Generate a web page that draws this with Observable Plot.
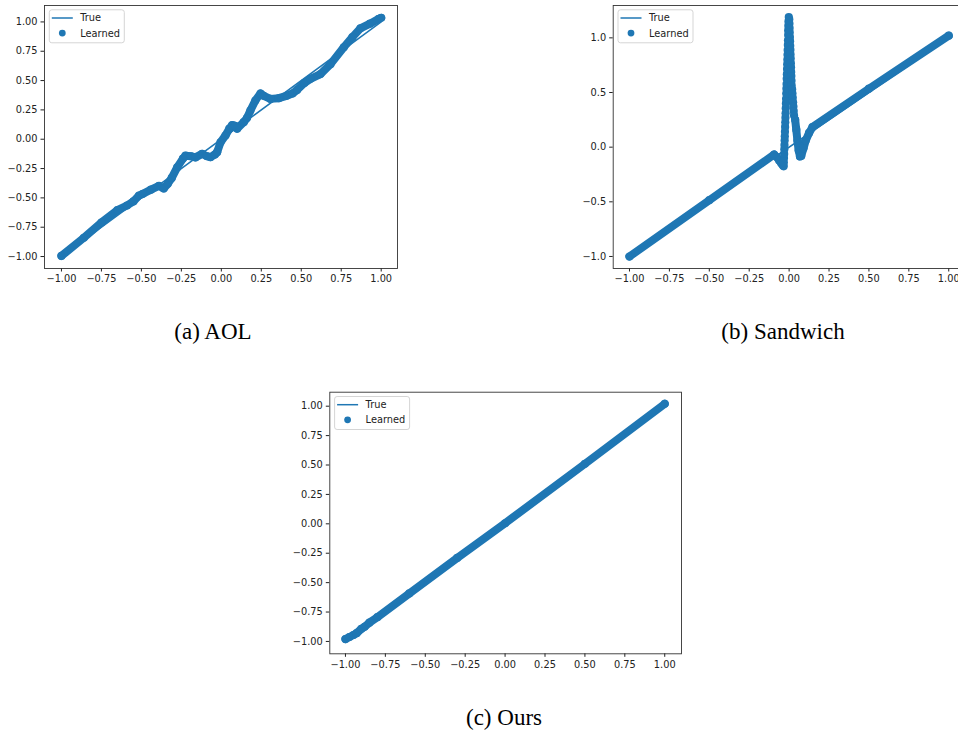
<!DOCTYPE html>
<html>
<head>
<meta charset="utf-8">
<script src="https://cdn.jsdelivr.net/npm/d3@7"></script>
<script src="https://cdn.jsdelivr.net/npm/@observablehq/plot@0.6"></script>
<style>
  html, body { margin: 0; padding: 0; background: #fff; }
  body { position: relative; width: 958px; height: 732px; overflow: hidden; }
  .panel { position: absolute; }
  .caption {
    position: absolute; width: 240px; text-align: center; white-space: nowrap;
    font-family: "Liberation Serif", "Times New Roman", serif;
    font-size: 23px; line-height: 23px; color: #000;
  }
</style>
</head>
<body>
<script>
// ---- shared axis ticks and labels ----
const xTicks = [-1, -0.75, -0.5, -0.25, 0, 0.25, 0.5, 0.75, 1];
const yTicksFine = [-1, -0.75, -0.5, -0.25, 0, 0.25, 0.5, 0.75, 1];
const yTicksCoarse = [-1, -0.5, 0, 0.5, 1];
const seriesNames = ["True", "Learned"];
const captions = ["(a) AOL", "(b) Sandwich", "(c) Ours"];

// ---- ground-truth function y = x ----
const trueX = [-1, 1];
const trueY = [-1, 1];

// ---- learned function, AOL ----
const aolX = [-1.0, -0.86, -0.75, -0.65, -0.59, -0.55, -0.515, -0.49, -0.44, -0.39, -0.36, -0.335, -0.31,
  -0.276, -0.24, -0.224, -0.19, -0.162, -0.12, -0.09, -0.068, -0.04, -0.026, -0.005, 0.026, 0.05, 0.068,
  0.085, 0.099, 0.14, 0.16, 0.182, 0.213, 0.245, 0.265, 0.307, 0.36, 0.412, 0.445, 0.474, 0.52, 0.558,
  0.62, 0.683, 0.766, 0.82, 0.87, 0.93, 0.985, 1.0];
const aolY = [-0.995, -0.84, -0.71, -0.605, -0.565, -0.53, -0.48, -0.465, -0.43, -0.398, -0.42, -0.38, -0.33,
  -0.24, -0.165, -0.14, -0.145, -0.155, -0.125, -0.145, -0.153, -0.13, -0.11, -0.026, 0.032, 0.09, 0.12,
  0.115, 0.09, 0.145, 0.18, 0.245, 0.33, 0.39, 0.37, 0.344, 0.35, 0.372, 0.39, 0.42, 0.48, 0.515,
  0.555, 0.64, 0.784, 0.87, 0.945, 0.985, 1.026, 1.035];

// ---- learned function, Sandwich (spike near zero) ----
const sandwichX = [-1.0, -0.5, -0.094, -0.078, -0.062, -0.048, -0.038,
  -0.034, -0.033, -0.032, -0.031, -0.030, -0.029, -0.028, -0.027, -0.026, -0.025, -0.024, -0.023, -0.022,
  -0.021, -0.020, -0.019, -0.018, -0.017, -0.016, -0.015, -0.014, -0.013, -0.012, -0.011, -0.010, -0.009,
  -0.008, -0.007, -0.006, -0.006, -0.005, -0.004, -0.002,
  0.001, 0.002, 0.003, 0.004, 0.005, 0.006, 0.007, 0.008, 0.009, 0.010, 0.011, 0.012, 0.013, 0.014,
  0.015, 0.016, 0.019, 0.021, 0.023, 0.025, 0.027, 0.029, 0.031,
  0.038, 0.045, 0.052, 0.060, 0.068, 0.076, 0.09, 0.104, 0.125, 0.146, 0.5, 1.0];
const sandwichY = [-1.0, -0.485, -0.067, -0.09, -0.122, -0.15, -0.168,
  -0.175, -0.14, -0.10, -0.062, -0.02, 0.02, 0.062, 0.10, 0.142, 0.185, 0.228, 0.27, 0.31,
  0.355, 0.40, 0.443, 0.49, 0.535, 0.578, 0.625, 0.668, 0.715, 0.758, 0.80, 0.845, 0.888,
  0.935, 0.978, 1.025, 1.068, 1.11, 1.15, 1.19,
  1.17, 1.13, 1.09, 1.05, 1.008, 0.97, 0.928, 0.89, 0.848, 0.81, 0.768, 0.73, 0.688, 0.65,
  0.608, 0.565, 0.53, 0.49, 0.452, 0.41, 0.372, 0.33, 0.29,
  0.25, 0.16, 0.06, -0.03, -0.085, -0.08, -0.01, 0.06, 0.13, 0.183, 0.535, 1.02];

// ---- learned function, Ours ----
const oursX = [-1.0, -0.975, -0.95, -0.93, -0.9, -0.88, -0.85, -0.8, -0.6, -0.3, 0.0, 0.5, 1.0];
const oursY = [-0.98, -0.962, -0.945, -0.93, -0.892, -0.876, -0.84, -0.794, -0.592, -0.29, 0.005, 0.51, 1.02];

const BLUE = "#1f77b4";
const DOT_R = 4.1;

// legend box drawn inside the upper-left corner of the axes
function legendMark() {
  return (index, scales, values, dimensions) => {
    const g = d3.create("svg:g")
      .attr("transform", `translate(${dimensions.marginLeft + 5.3},${dimensions.marginTop + 4.8})`)
      .attr("font-family", "DejaVu Sans")
      .attr("font-size", "9.8px")
      .attr("text-anchor", "start")
      .attr("fill", "#222");
    g.append("rect")
      .attr("width", 75).attr("height", 33).attr("rx", 2.5)
      .attr("fill", "#fff").attr("fill-opacity", 0.8)
      .attr("stroke", "#d0d0d0").attr("stroke-width", 0.9);
    g.append("line")
      .attr("x1", 2.5).attr("x2", 23.5).attr("y1", 8.2).attr("y2", 8.2)
      .attr("stroke", BLUE).attr("stroke-width", 1.5);
    g.append("circle")
      .attr("cx", 13).attr("cy", 23.3).attr("r", 3.4).attr("fill", BLUE);
    g.append("text").attr("x", 31).attr("y", 8.2).attr("dy", "0.35em").text(seriesNames[0]);
    g.append("text").attr("x", 31).attr("y", 23.3).attr("dy", "0.35em").text(seriesNames[1]);
    return g.node();
  };
}

// gap: x-interval whose samples are shown only as separate dots (no connecting band)
function drawPanel({learnedX, learnedY, gap, yTicks, yFormat, xDomain, yDomain, left, top, width, height, margins}) {
  const learned = learnedX.map((x, i) => ({x, y: learnedY[i]}));
  const band = learned.map(d => (gap && d.x > gap[0] && d.x < gap[1]) ? {x: d.x, y: null} : d);
  const truth = trueX.map((x, i) => ({x, y: trueY[i]}));
  const chart = Plot.plot({
    width, height,
    ...margins,
    style: {fontFamily: "DejaVu Sans", fontSize: "9.8px", color: "#222", background: "transparent", overflow: "visible", maxWidth: "none"},
    x: {domain: xDomain, ticks: xTicks, tickFormat: d3.format(".2f"), tickSize: 3.5, tickPadding: 3.5, label: null},
    y: {domain: yDomain, ticks: yTicks, tickFormat: d3.format(yFormat), tickSize: 3.5, tickPadding: 3.5, label: null},
    marks: [
      Plot.line(band, {x: "x", y: "y", stroke: BLUE, strokeWidth: 2 * DOT_R - 0.2, strokeLinejoin: "round", strokeLinecap: "round"}),
      Plot.dot(learned, {x: "x", y: "y", r: DOT_R, fill: BLUE}),
      Plot.line(truth, {x: "x", y: "y", stroke: BLUE, strokeWidth: 1.5}),
      Plot.frame({stroke: "#333", strokeWidth: 0.9}),
      legendMark()
    ]
  });
  const wrap = document.createElement("div");
  wrap.className = "panel";
  wrap.style.left = left + "px";
  wrap.style.top = top + "px";
  wrap.style.width = width + "px";
  wrap.style.height = height + "px";
  wrap.appendChild(chart);
  document.body.appendChild(wrap);
}

function addCaption(text, cx, top) {
  const d = document.createElement("div");
  d.className = "caption";
  d.style.left = (cx - 120) + "px";
  d.style.top = top + "px";
  d.textContent = text;
  document.body.appendChild(d);
}

drawPanel({
  learnedX: aolX, learnedY: aolY, yTicks: yTicksFine, yFormat: ".2f",
  xDomain: [-1.106, 1.102], yDomain: [-1.102, 1.14],
  left: 0, top: 0, width: 400, height: 290,
  margins: {marginLeft: 44, marginRight: 3, marginTop: 5, marginBottom: 22}
});

drawPanel({
  learnedX: sandwichX, learnedY: sandwichY, gap: [-0.036, 0.032], yTicks: yTicksCoarse, yFormat: ".1f",
  xDomain: [-1.102, 1.1], yDomain: [-1.11, 1.296],
  left: 570, top: 0, width: 400, height: 290,
  margins: {marginLeft: 42.7, marginRight: 5.8, marginTop: 5, marginBottom: 22}
});

drawPanel({
  learnedX: oursX, learnedY: oursY, yTicks: yTicksFine, yFormat: ".2f",
  xDomain: [-1.098, 1.105], yDomain: [-1.105, 1.119],
  left: 285, top: 386, width: 400, height: 290,
  margins: {marginLeft: 44.3, marginRight: 4, marginTop: 5.7, marginBottom: 22.7}
});

addCaption(captions[0], 213, 320);
addCaption(captions[1], 783, 320);
addCaption(captions[2], 504, 706);
</script>
</body>
</html>
